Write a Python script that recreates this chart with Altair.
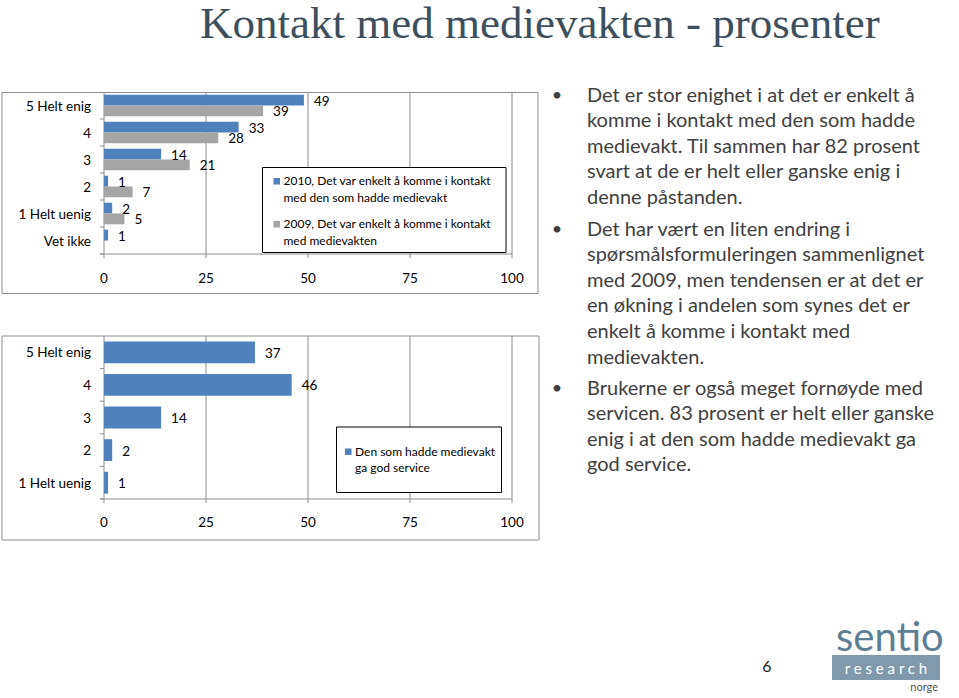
import altair as alt
import pandas as pd

# ---------------- data ----------------
title_text = "Kontakt med medievakten - prosenter"

categories_1 = ["5 Helt enig", "4", "3", "2", "1 Helt uenig", "Vet ikke"]
series_keys_1 = ["2010", "2009"]
values_2010 = [49, 33, 14, 1, 2, 1]
values_2009 = [39, 28, 21, 7, 5, None]
legend_lines_2010 = ["2010, Det var enkelt å komme i kontakt", "med den som hadde  medievakt"]
legend_lines_2009 = ["2009, Det var enkelt å komme i kontakt", "med medievakten"]

categories_2 = ["5 Helt enig", "4", "3", "2", "1 Helt uenig"]
values_service = [37, 46, 14, 2, 1]
legend_lines_service = ["Den som hadde medievakt", "ga god service"]

axis_ticks = [0, 25, 50, 75, 100]

bullet_1 = ["Det er stor enighet i at det er enkelt å",
            "komme i kontakt med den som hadde",
            "medievakt. Til sammen har 82 prosent",
            "svart at de er helt eller ganske enig i",
            "denne påstanden."]
bullet_2 = ["Det har vært en liten endring i",
            "spørsmålsformuleringen sammenlignet",
            "med 2009, men tendensen er at det er",
            "en økning i andelen som synes det er",
            "enkelt å komme i kontakt med",
            "medievakten."]
bullet_3 = ["Brukerne er også meget fornøyde med",
            "servicen. 83 prosent er helt eller ganske",
            "enig i at den som hadde medievakt ga",
            "god service."]
page_number = "6"
logo_top, logo_mid, logo_bottom = "sentio", "r e s e a r c h", "norge"

# ---------------- frames ----------------
rows1 = []
for c, a, b in zip(categories_1, values_2010, values_2009):
    rows1.append({"cat": c, "series": "2010", "value": a})
    if b is not None:
        rows1.append({"cat": c, "series": "2009", "value": b})
df1 = pd.DataFrame(rows1)
df2 = pd.DataFrame({"cat": categories_2, "value": values_service})
df_ticks = pd.DataFrame({"tick": axis_ticks})
df_c1 = pd.DataFrame({"cat": categories_1})
df_c2 = pd.DataFrame({"cat": categories_2})
one = pd.DataFrame({"k": [0]})

# ---------------- styles ----------------
FONT = "Lato"
BLUE = "#4F81BD"
GREYBAR = "#A5A5A5"
LINE = "#8C8C8C"
FS = 13.5

x_scale = alt.Scale(domain=[0, 100], range=[104, 512], nice=False)
y1_scale = alt.Scale(domain=categories_1, range=[92, 254], paddingInner=0.2, paddingOuter=0.1)
y2_scale = alt.Scale(domain=categories_2, range=[336, 499], paddingInner=0.33, paddingOuter=0.165)


def box(x1, x2, y1, y2, fill="white", stroke=LINE, sw=1):
    return alt.Chart(one).mark_rect(fill=fill, stroke=stroke, strokeWidth=sw).encode(
        x=alt.value(x1), x2=alt.value(x2), y=alt.value(y1), y2=alt.value(y2))


def txt(lines, x, y, size, color="black", align="left", baseline="top", font=FONT, lh=None, weight="normal"):
    kw = dict(text=lines, align=align, baseline=baseline, font=font, fontSize=size,
              color=color, fontWeight=weight)
    if lh is not None:
        kw["lineHeight"] = lh
    return alt.Chart(one).mark_text(**kw).encode(x=alt.value(x), y=alt.value(y))


def panel_frame(y_scale, cats_df, top, bottom, tick_label_y, step):
    grid = alt.Chart(df_ticks).mark_rule(color=LINE, strokeWidth=1).encode(
        x=alt.X("tick:Q", scale=x_scale, axis=None),
        y=alt.value(top), y2=alt.value(bottom + 4))
    xaxis = alt.Chart(one).mark_rule(color=LINE, strokeWidth=1).encode(
        x=alt.value(100), x2=alt.value(512), y=alt.value(bottom))
    yticks = alt.Chart(cats_df).mark_rule(color=LINE, strokeWidth=1, yOffset=step / 2).encode(
        y=alt.Y("cat:N", scale=y_scale, axis=None),
        x=alt.value(100), x2=alt.value(104))
    ylabels = alt.Chart(cats_df).mark_text(align="right", baseline="middle", font=FONT,
                                           fontSize=FS, dy=1, color="black").encode(
        y=alt.Y("cat:N", scale=y_scale, axis=None), x=alt.value(91), text="cat:N")
    xlabels = alt.Chart(df_ticks).mark_text(align="center", baseline="middle", font=FONT,
                                            fontSize=FS, color="black").encode(
        x=alt.X("tick:Q", scale=x_scale, axis=None), y=alt.value(tick_label_y), text="tick:Q")
    return [grid, xaxis, yticks, ylabels, xlabels]


# ---------------- panel 1 ----------------
bars1 = alt.Chart(df1).mark_bar().encode(
    x=alt.X("value:Q", scale=x_scale, axis=None),
    y=alt.Y("cat:N", scale=y1_scale, axis=None),
    yOffset=alt.YOffset("series:N", scale=alt.Scale(domain=series_keys_1)),
    color=alt.Color("series:N", scale=alt.Scale(domain=series_keys_1, range=[BLUE, GREYBAR]), legend=None),
)
labels1 = alt.Chart(df1).mark_text(align="left", baseline="middle", dx=10, dy=1.5,
                                   font=FONT, fontSize=FS, color="black").encode(
    x=alt.X("value:Q", scale=x_scale, axis=None),
    y=alt.Y("cat:N", scale=y1_scale, axis=None),
    yOffset=alt.YOffset("series:N", scale=alt.Scale(domain=series_keys_1)),
    text="value:Q",
)
panel1 = alt.layer(
    box(2, 538, 92.5, 293.5),
    *panel_frame(y1_scale, df_c1, 92, 254, 279, 27),
    bars1, labels1,
    box(262.5, 506, 167.5, 252.5, stroke="black"),
    box(273.5, 280, 178, 184.5, fill=BLUE, stroke=BLUE, sw=0),
    box(273.5, 280, 221, 227.5, fill=GREYBAR, stroke=GREYBAR, sw=0),
    txt(legend_lines_2010, 283.5, 181, 12, baseline="middle", lh=16.6),
    txt(legend_lines_2009, 283.5, 224, 12, baseline="middle", lh=16.6),
)

# ---------------- panel 2 ----------------
bars2 = alt.Chart(df2).mark_bar(color=BLUE).encode(
    x=alt.X("value:Q", scale=x_scale, axis=None),
    y=alt.Y("cat:N", scale=y2_scale, axis=None),
)
labels2 = alt.Chart(df2).mark_text(align="left", baseline="middle", dx=10, dy=1.5,
                                   font=FONT, fontSize=FS, color="black").encode(
    x=alt.X("value:Q", scale=x_scale, axis=None),
    y=alt.Y("cat:N", scale=y2_scale, axis=None),
    text="value:Q",
)
panel2 = alt.layer(
    box(2, 539, 336, 540),
    *panel_frame(y2_scale, df_c2, 336, 499, 523, 32.6),
    bars2, labels2,
    box(336.5, 501.5, 427, 492.5, stroke="black"),
    box(345, 351.5, 448.5, 455, fill=BLUE, stroke=BLUE, sw=0),
    txt(legend_lines_service, 355, 452, 12, baseline="middle", lh=16),
)

# ---------------- slide decorations ----------------
TXT = "#404040"
BFS = 20
deco = [
    txt(title_text, 200, 38, 45, color="#3D4F5C", baseline="alphabetic", font="Liberation Serif"),
    txt(bullet_1, 587, 85.5, BFS, color=TXT, lh=25.6),
    txt(bullet_2, 587, 219.5, BFS, color=TXT, lh=25.6),
    txt(bullet_3, 587, 378.5, BFS, color=TXT, lh=25.6),
    txt("•", 557, 96, 18, color=TXT, align="center", baseline="middle"),
    txt("•", 557, 230, 18, color=TXT, align="center", baseline="middle"),
    txt("•", 557, 389, 18, color=TXT, align="center", baseline="middle"),
    txt(page_number, 767, 667, 16, color="#222222", align="center", baseline="middle"),
    txt(logo_top, 836, 651, 40, color="#5E7E94", baseline="alphabetic"),
    box(832, 940, 655, 680, fill="#8199AA", stroke="#8199AA", sw=0),
    txt(logo_mid, 886, 669, 15, color="white", align="center", baseline="middle"),
    txt(logo_bottom, 938, 688, 11, color="#555555", align="right", baseline="middle"),
]

chart = alt.layer(panel1, panel2, *deco).resolve_scale(y="independent").properties(
    width=959, height=698, padding=0,
    autosize=alt.AutoSizeParams(type="none"),
    background="white",
).configure_view(stroke=None)

chart.save("out.html", embed_options={"renderer": "svg", "actions": False})
